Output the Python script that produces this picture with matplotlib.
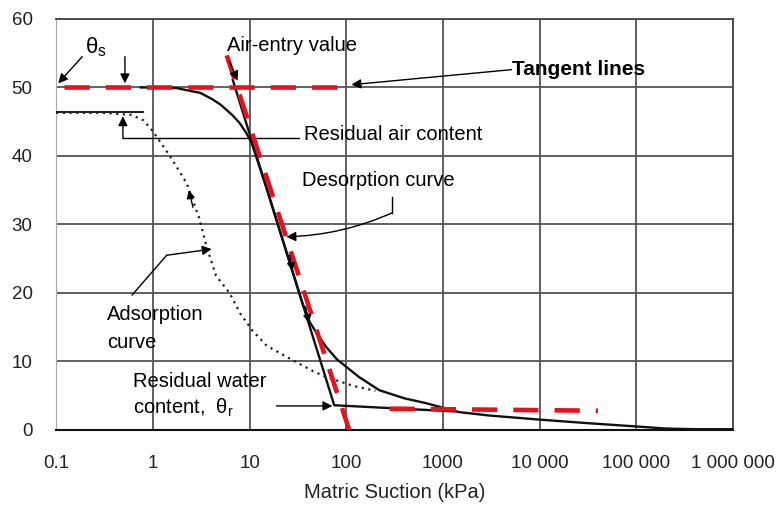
import matplotlib
matplotlib.use("Agg")
import matplotlib.pyplot as plt
from matplotlib.ticker import FixedLocator, NullLocator

plt.rcParams['font.family'] = ['Liberation Sans', 'DejaVu Sans']
plt.rcParams['mathtext.fontset'] = 'custom'
plt.rcParams['mathtext.rm'] = 'Liberation Sans'

# ---- data ----
desorp_x = [0.75, 1, 1.77, 3.1, 4.1, 5.0, 5.8, 6.7, 7.9, 9.2, 10.5, 15, 20, 27, 35, 41.6, 50, 62, 80,
            100, 136, 219, 400, 668, 1460, 3000, 10000, 30000, 100000, 200000, 400000, 1000000]
desorp_y = [50, 50, 49.9, 49.2, 48.3, 47.5, 46.7, 45.9, 44.8, 43.4, 41.9, 35.3, 29.6, 23.7, 18.6, 15.8, 14.0,
            12.1, 10.3, 9.2, 7.7, 5.8, 4.6, 3.9, 2.6, 2.1, 1.5, 1.0, 0.5, 0.2, 0.1, 0.1]

adsorp_x = [0.1, 0.3, 0.6, 0.8, 1, 1.5, 2.24, 3, 3.6, 4.5, 6.2, 8, 10.7, 15, 27.7, 45, 62, 120, 200]
adsorp_y = [46.3, 46.3, 46.0, 45.2, 43.6, 40, 36, 31, 26.7, 22.5, 20, 17, 14.5, 12.3, 10.2, 8.6, 7.7, 6.4, 5.7]

resid_air_x = [0.1, 0.79]
resid_air_y = [46.4, 46.4]

bilinear_x = [6.7, 75, 1300]
bilinear_y = [51.1, 3.6, 2.7]

tan_sat_x = [0.12, 107]
tan_sat_y = [50, 50]
tan_steep_x = [5.8, 107]
tan_steep_y = [54.7, 0]
tan_res_x = [280, 40000]
tan_res_y = [3.1, 2.8]

yticks = [0, 10, 20, 30, 40, 50, 60]
xticks = [0.1, 1, 10, 100, 1000, 10000, 100000, 1000000]
xticklabels = ['0.1', '1', '10', '100', '1000', '10 000', '100 000', '1 000 000']

fig = plt.figure(figsize=(7.8, 5.13), dpi=100)
ax = fig.add_axes([0.072, 0.162, 0.868, 0.801])
ax.set_xscale('log')
ax.set_xlim(0.1, 1e6)
ax.set_ylim(0, 60)

ax.xaxis.set_major_locator(FixedLocator(xticks))
ax.xaxis.set_minor_locator(NullLocator())
ax.set_xticklabels(xticklabels)
ax.set_yticks(yticks)
ax.tick_params(axis='both', length=0, labelsize=13.5, colors='#222222')
ax.tick_params(axis='x', pad=18)
ax.tick_params(axis='y', pad=17)
ax.grid(True, color='#555555', lw=1.3)
for s in ['top', 'right']:
    ax.spines[s].set_color('#444444')
    ax.spines[s].set_linewidth(1.3)
ax.spines['left'].set_color('#aaaaaa')
ax.spines['bottom'].set_color('#111111')
ax.spines['bottom'].set_linewidth(1.5)
ax.set_xlabel('Matric Suction (kPa)', fontsize=14.5, color='#222222', labelpad=8)

# curves
ax.plot(desorp_x, desorp_y, color='#111111', lw=1.7, zorder=4)
ax.plot(adsorp_x, adsorp_y, color='#222222', lw=1.6, ls=(0, (1, 2)), zorder=4)
ax.plot(resid_air_x, resid_air_y, color='#222222', lw=1.5, zorder=4)
ax.plot(bilinear_x, bilinear_y, color='#111111', lw=1.7, zorder=4)

red = '#e8101a'
for xs, ys in [(tan_sat_x, tan_sat_y), (tan_steep_x, tan_steep_y), (tan_res_x, tan_res_y)]:
    ax.plot(xs, ys, color=red, lw=3.3, dashes=(5.5, 3.5), zorder=5)

ap = dict(arrowstyle='-|>', color='black', lw=1.0, mutation_scale=14, shrinkA=0, shrinkB=0)
fs = 14.5
# theta_s
ax.text(0.2, 55.9, r'θ$_\mathregular{s}$', fontsize=16, ha='left', va='center')
ax.annotate('', xy=(0.105, 50.6), xytext=(0.186, 54.5), arrowprops=ap, zorder=6)
ax.annotate('', xy=(0.514, 50.6), xytext=(0.514, 54.5), arrowprops=ap, zorder=6)
# air-entry
ax.text(5.9, 56.2, 'Air-entry value', fontsize=fs, ha='left', va='center')
ax.annotate('', xy=(7.5, 51.0), xytext=(6.2, 53.8), arrowprops=ap, zorder=6)
# tangent lines
ax.text(5140, 52.6, 'Tangent lines', fontsize=15, fontweight='bold', ha='left', va='center')
ax.annotate('', xy=(113, 50.4), xytext=(5100, 52.6), arrowprops=ap, zorder=6)
# residual air content
ax.text(36.9, 43.1, 'Residual air content', fontsize=fs, ha='left', va='center')
ax.plot([32.7, 0.49], [42.6, 42.6], color='black', lw=1.0)
ax.annotate('', xy=(0.49, 45.8), xytext=(0.49, 42.6), arrowprops=ap, zorder=6)
# desorption curve
ax.text(35.2, 36.4, 'Desorption curve', fontsize=fs, ha='left', va='center')
ax.plot([298, 298], [34.0, 31.7], color='black', lw=1.0)
ax.annotate('', xy=(24, 28.2), xytext=(298, 31.7), arrowprops=dict(ap, connectionstyle='arc3,rad=-0.1'), zorder=6)
# direction arrows on desorption curve
ax.annotate('', xy=(27.7, 23.2), xytext=(26.0, 25.5), arrowprops=dict(ap, mutation_scale=12), zorder=6)
ax.annotate('', xy=(41.0, 15.6), xytext=(38.0, 18.0), arrowprops=dict(ap, mutation_scale=12), zorder=6)
# direction arrow on adsorption curve
ax.annotate('', xy=(2.35, 35.0), xytext=(2.6, 32.5), arrowprops=dict(ap, mutation_scale=12), zorder=6)
# adsorption curve
ax.text(0.336, 16.8, 'Adsorption', fontsize=fs, ha='left', va='center')
ax.text(0.336, 12.8, 'curve', fontsize=fs, ha='left', va='center')
ax.plot([0.61, 1.39], [19.7, 25.5], color='black', lw=1.0)
ax.annotate('', xy=(4.06, 26.4), xytext=(1.39, 25.5), arrowprops=ap, zorder=6)
# residual water content
ax.text(0.62, 7.0, 'Residual water', fontsize=fs, ha='left', va='center')
ax.text(0.62, 3.2, r'content,  θ$_\mathregular{r}$', fontsize=fs, ha='left', va='center')
ax.annotate('', xy=(71.8, 3.5), xytext=(19, 3.5), arrowprops=ap, zorder=6)

fig.savefig('out.png', dpi=100, facecolor='white')
